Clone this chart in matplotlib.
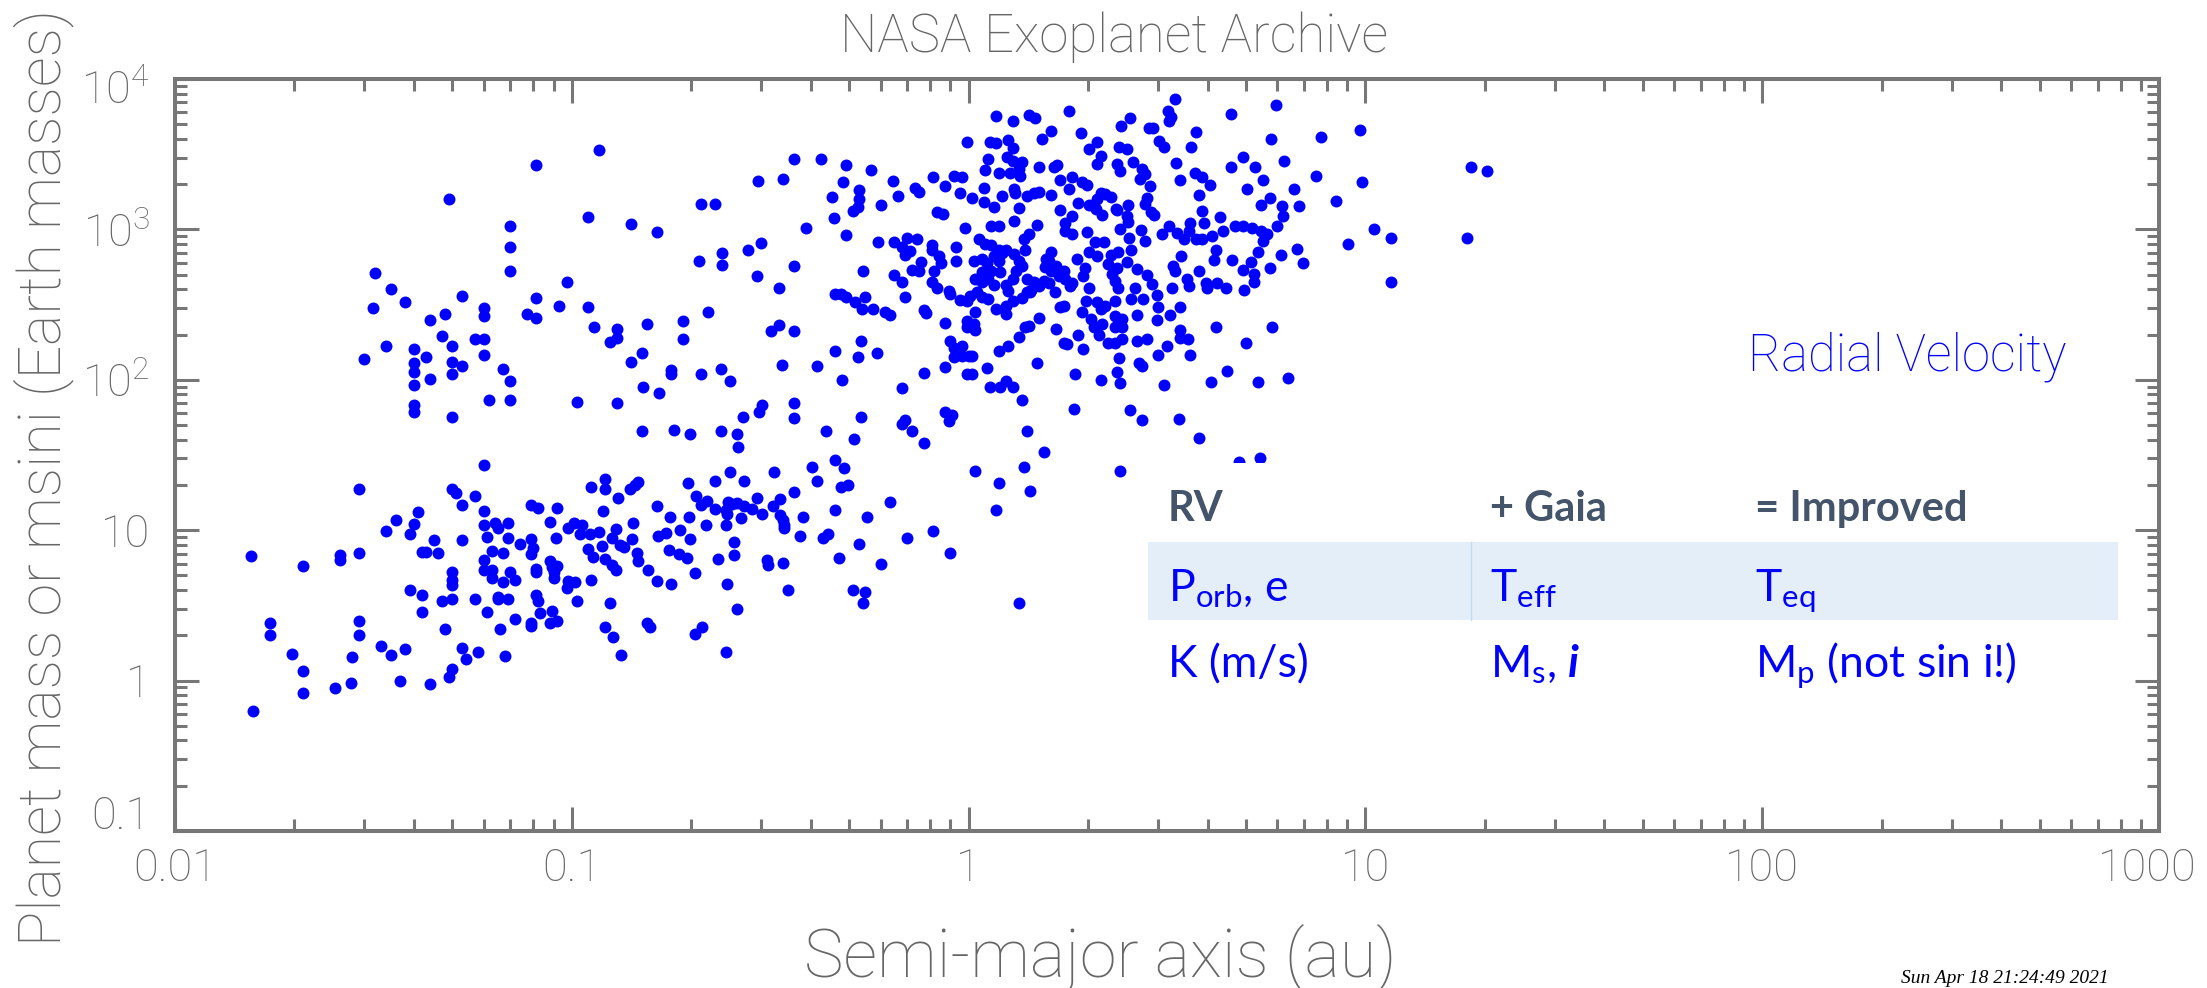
import numpy as np
import matplotlib
matplotlib.use("Agg")
import matplotlib.pyplot as plt
from matplotlib.patches import Rectangle
from matplotlib.lines import Line2D
from matplotlib.ticker import LogLocator, NullFormatter
from matplotlib.transforms import ScaledTranslation

# a < 0.1 au, m > 30
hot_giant_a = [0.081, 0.049, 0.070, 0.070, 0.070, 0.097, 0.032, 0.035, 0.0315, 0.038,
               0.053, 0.081, 0.093, 0.060, 0.060, 0.048, 0.044, 0.077, 0.081, 0.047,
               0.057, 0.060, 0.050, 0.034, 0.030, 0.040, 0.043, 0.040, 0.050, 0.053,
               0.060, 0.040, 0.050, 0.044, 0.067, 0.070, 0.040, 0.040, 0.040, 0.062,
               0.070, 0.050]
hot_giant_m = [2700, 1600, 1060, 760, 530, 450, 510, 400, 300, 330,
               360, 350, 310, 300, 265, 275, 250, 272, 258, 197,
               188, 187, 167, 168, 138, 161, 142, 130, 131, 124,
               146, 112, 110, 102, 118, 98, 92, 68, 61, 73,
               73, 57]

# a < 0.1 au, m < 30
hot_small_a = [0.060, 0.029, 0.050, 0.051, 0.057, 0.053, 0.060, 0.079, 0.082, 0.092,
               0.041, 0.036, 0.040, 0.034, 0.039, 0.060, 0.064, 0.065, 0.069, 0.088,
               0.098, 0.045, 0.053, 0.061, 0.069, 0.091, 0.079, 0.074, 0.080, 0.079,
               0.042, 0.043, 0.046, 0.063, 0.067, 0.0155, 0.021, 0.026, 0.026, 0.029,
               0.060, 0.060, 0.063, 0.063, 0.067, 0.070, 0.072, 0.081, 0.081, 0.088,
               0.089, 0.092, 0.090, 0.090, 0.098, 0.097, 0.050, 0.050, 0.050, 0.039,
               0.042, 0.047, 0.050, 0.057, 0.065, 0.065, 0.069, 0.042, 0.061, 0.081,
               0.082, 0.083, 0.089, 0.088, 0.092, 0.072, 0.079, 0.079, 0.066, 0.048,
               0.0174, 0.0174, 0.029, 0.029, 0.0197, 0.021, 0.021, 0.0157, 0.0253, 0.0277,
               0.028, 0.033, 0.035, 0.038, 0.037, 0.044, 0.049, 0.050, 0.053, 0.054,
               0.058, 0.068]
hot_small_m = [27, 18.8, 18.8, 17.6, 16.9, 14.7, 13.5, 14.7, 14.1, 14.0,
               13.3, 11.7, 11.0, 9.9, 9.4, 10.8, 11.1, 10.3, 11.2, 11.3,
               10.3, 8.6, 8.6, 9.0, 8.9, 8.9, 8.7, 8.1, 7.6, 6.9,
               7.2, 7.2, 7.1, 7.3, 7.1, 6.7, 5.8, 6.8, 6.3, 7.1,
               6.3, 5.4, 5.4, 4.8, 4.5, 5.3, 4.7, 5.5, 5.3, 6.2,
               5.7, 5.8, 5.3, 4.8, 4.6, 4.1, 5.3, 4.7, 4.3, 4.0,
               3.7, 3.4, 3.5, 3.5, 3.6, 3.5, 3.5, 2.84, 2.87, 3.7,
               3.4, 2.8, 2.9, 2.4, 2.5, 2.57, 2.4, 2.3, 2.19, 2.2,
               2.43, 2.0, 2.5, 2.0, 1.5, 1.15, 0.83, 0.63, 0.89, 0.96,
               1.44, 1.71, 1.47, 1.62, 1.0, 0.95, 1.06, 1.19, 1.64, 1.39,
               1.56, 1.46]

# 0.1 - 1 au, m > 30
warm_giant_a = [0.117, 0.110, 0.141, 0.164, 0.211, 0.229, 0.295, 0.34, 0.362, 0.424,
                0.491, 0.567, 0.99, 0.483, 0.452, 0.53, 0.53, 0.525, 0.51, 0.458,
                0.491, 0.39, 0.603, 0.643, 0.663, 0.734, 0.75, 0.815, 0.873, 0.92,
                0.96, 0.95, 0.83, 0.86, 0.98, 0.592, 0.65, 0.70, 0.74, 0.68,
                0.71, 0.69, 0.81, 0.81, 0.84, 0.85, 0.82, 0.81, 0.83, 0.93,
                0.93, 0.76, 0.72, 0.75, 0.65, 0.68, 0.69, 0.542, 0.89, 0.90,
                0.95, 0.99, 0.461, 0.478, 0.492, 0.518, 0.548, 0.54, 0.575, 0.614,
                0.635, 0.77, 0.78, 0.87, 0.99, 0.99, 0.90, 0.92, 0.96, 0.92,
                0.96, 1.0, 0.87, 0.77, 0.99, 0.535, 0.588, 0.526, 0.461, 0.48,
                0.415, 0.339, 0.363, 0.332, 0.317, 0.362, 0.293, 0.332, 0.278, 0.299,
                0.239, 0.239, 0.209, 0.110, 0.114, 0.130, 0.130, 0.125, 0.155, 0.191,
                0.191, 0.22, 0.150, 0.141, 0.178, 0.178, 0.211, 0.238, 0.251, 0.151,
                0.166, 0.103, 0.130, 0.301, 0.296, 0.270, 0.362, 0.364, 0.150, 0.181,
                0.199, 0.238, 0.261, 0.263, 0.436, 0.515, 0.535, 0.68, 0.69, 0.68,
                0.72, 0.773, 0.87, 0.91, 0.89]
warm_giant_m = [3370, 1210, 1080, 955, 1470, 1480, 2100, 2150, 2920, 2920,
                2700, 2500, 3790, 2060, 1650, 1830, 1590, 1420, 1330, 1200,
                916, 1030, 1460, 2090, 1670, 1900, 1780, 2230, 1940, 2270,
                2240, 1750, 1310, 1270, 1030, 824, 830, 880, 860, 760,
                721, 675, 787, 730, 668, 594, 531, 444, 411, 770,
                620, 610, 540, 530, 499, 444, 358, 530, 391, 372,
                340, 336, 372, 372, 353, 330, 353, 298, 295, 283,
                269, 292, 280, 240, 248, 225, 180, 164, 168, 141,
                144, 144, 121, 111, 110, 182, 151, 142, 155, 100,
                123, 125, 211, 232, 212, 570, 492, 407, 733, 807,
                697, 579, 619, 304, 224, 217, 191, 179, 234, 246,
                188, 282, 151, 132, 117, 110, 109, 118, 97.5, 89,
                82, 71, 70, 68, 61.5, 56.8, 70, 55.8, 45.8, 46.7,
                43.5, 46, 43.4, 35.8, 45.4, 40.3, 57, 88, 54, 50.7,
                45.8, 38, 61, 58, 53]

# 0.1 - 1 au, m < 30
warm_small_a = [0.112, 0.121, 0.121, 0.140, 0.144, 0.147, 0.131, 0.120, 0.196, 0.229,
                0.251, 0.271, 0.324, 0.403, 0.415, 0.461, 0.484, 0.478, 0.497, 0.364,
                0.292, 0.335, 0.206, 0.211, 0.219, 0.164, 0.177, 0.197, 0.229, 0.244,
                0.246, 0.261, 0.271, 0.284, 0.301, 0.247, 0.253, 0.267, 0.244, 0.218,
                0.321, 0.335, 0.340, 0.342, 0.343, 0.382, 0.376, 0.430, 0.442, 0.461,
                0.553, 0.632, 0.528, 0.70, 0.811, 0.90, 0.472, 0.602, 0.511, 0.549,
                0.541, 0.351, 0.310, 0.312, 0.340, 0.256, 0.256, 0.233, 0.246, 0.261,
                0.244, 0.204, 0.213, 0.204, 0.199, 0.187, 0.173, 0.165, 0.176, 0.186,
                0.195, 0.143, 0.142, 0.146, 0.147, 0.156, 0.164, 0.178, 0.101, 0.106,
                0.105, 0.111, 0.117, 0.126, 0.129, 0.110, 0.119, 0.113, 0.121, 0.132,
                0.135, 0.126, 0.129, 0.112, 0.102, 0.103, 0.125, 0.121, 0.127, 0.133,
                0.155, 0.157]
warm_small_m = [19.5, 21.9, 18.8, 18.8, 20, 20.8, 16.3, 13.5, 20.5, 21.2,
                24.3, 21.3, 24.3, 26.3, 21.4, 29.3, 26, 19.5, 20.1, 18.0,
                16.5, 16.2, 16.9, 14.8, 15.6, 14.6, 12.2, 12.3, 13.8, 13.6,
                12.9, 15.1, 14.4, 13.9, 12.9, 15.5, 14.9, 12.0, 10.9, 10.8,
                14.4, 12.6, 11.7, 10.8, 10.3, 12.2, 9.1, 8.9, 9.5, 13.6,
                12.2, 15.3, 8.05, 8.9, 9.9, 7.1, 6.5, 6.0, 4.0, 3.9,
                3.3, 4.0, 6.3, 5.9, 6.1, 8.4, 6.8, 6.4, 4.4, 3.0,
                1.54, 2.03, 2.28, 5.2, 8.7, 10.0, 9.6, 9.1, 7.4, 7.0,
                6.5, 11.1, 8.7, 7.1, 6.2, 5.4, 4.6, 4.4, 11.1, 10.8,
                9.5, 9.5, 9.7, 8.9, 10.2, 7.5, 7.8, 6.6, 6.4, 8.0,
                7.7, 5.9, 5.4, 4.7, 4.5, 3.4, 3.3, 2.28, 1.94, 1.47,
                2.4, 2.28]

# 1 - 10 au
cold_a = [3.32, 5.94, 3.18, 3.19, 3.24, 2.55, 2.42, 2.84, 2.92, 1.79,
          1.17, 1.29, 1.42, 1.47, 4.58, 9.66, 7.73, 5.78, 3.74, 3.64,
          3.02, 3.11, 1.61, 1.53, 1.92, 2.11, 2.01, 2.15, 2.11, 2.39,
          2.51, 2.37, 2.41, 2.60, 2.74, 2.79, 2.71, 2.87, 2.82, 2.79,
          2.88, 2.93, 3.34, 3.40, 3.71, 3.88, 4.06, 3.81, 3.88, 3.91,
          4.31, 4.92, 4.59, 5.28, 5.52, 5.03, 6.22, 6.6, 6.79, 6.17,
          6.2, 5.73, 5.44, 7.52, 9.81, 8.41, 9.03, 6.73, 6.95, 5.97,
          6.14, 5.76, 4.70, 4.9, 5.18, 5.44, 5.65, 5.52, 5.36, 4.37,
          4.10, 4.19, 4.15, 4.6, 5.16, 4.9, 5.25, 5.25, 4.95, 4.44,
          4.23, 3.99, 3.80, 3.97, 3.55, 3.59, 3.26, 3.27, 3.32, 3.43,
          3.07, 3.19, 3.35, 3.48, 3.62, 3.59, 3.73, 3.88, 2.72, 2.79,
          2.52, 2.51, 2.52, 2.40, 2.36, 2.53, 2.57, 2.66, 2.82, 2.90,
          2.99, 3.0, 2.99, 3.21, 3.40, 2.63, 2.75, 2.56, 2.66, 2.34,
          2.34, 2.44, 2.44, 2.34, 3.40, 3.57, 3.40, 3.61, 3.17, 3.0,
          2.82, 2.66, 2.44, 2.34, 2.24, 2.39, 2.37, 2.40, 2.69, 2.74,
          3.11, 2.16, 2.55, 2.73, 3.38, 3.80, 4.08, 4.49, 5.01, 5.35,
          6.37, 4.21, 5.8, 5.41, 1.13, 1.17, 1.26, 1.29, 1.12, 1.10,
          1.19, 1.25, 1.29, 1.36, 1.34, 1.35, 1.27, 1.50, 1.64, 1.67,
          1.70, 1.82, 1.09, 1.02, 1.09, 1.16, 1.21, 1.30, 1.31, 1.40,
          1.46, 1.50, 1.61, 1.34, 1.30, 1.14, 1.19, 1.49, 1.70, 1.75,
          1.75, 1.82, 1.82, 1.79, 1.93, 1.99, 1.89, 2.01, 2.15, 2.21,
          2.29, 2.10, 2.09, 2.17, 2.35, 1.99, 2.08, 2.19, 2.01, 2.11,
          2.38, 2.28, 2.24, 2.36, 2.51, 2.30, 2.34, 2.38, 1.87, 2.01,
          1.94, 1.96, 1.80, 1.82, 1.74, 1.69, 1.75, 1.61, 1.59, 1.66,
          1.61, 1.65, 1.50, 1.40, 1.43, 1.46, 1.97, 1.93, 2.11, 2.21,
          2.15, 2.03, 2.07, 2.13, 2.17, 2.11, 1.74, 1.70, 1.66, 1.74,
          1.77, 1.89, 1.94, 1.85, 1.50, 1.42, 1.39, 1.34, 1.26, 1.19,
          1.49, 1.02, 1.02, 1.11, 1.13, 1.20, 1.24, 1.29, 1.36, 1.40,
          1.55, 1.84, 1.04, 1.03, 1.04, 1.17, 1.24, 1.24, 1.29, 1.36,
          1.40, 1.44, 1.01, 1.08, 1.05, 1.12, 1.04, 1.08, 1.12, 1.16,
          1.03, 1.08, 1.11, 1.16, 1.19, 1.21, 1.24, 1.30, 1.34, 1.36,
          1.32, 1.29, 1.24, 1.26, 1.06, 1.10, 1.14, 1.19, 1.38, 1.42,
          1.39, 1.08, 1.14, 1.20, 1.57, 1.56, 1.59, 1.55, 1.035, 1.19,
          1.17, 1.38, 1.43, 2.40, 1.34, 4.8]
cold_m = [7360, 6710, 6090, 5280, 5560, 5470, 4870, 4700, 4690, 6130,
          5640, 5280, 5800, 5500, 5900, 4600, 4090, 3990, 4470, 3510,
          3850, 3510, 4530, 3990, 4370, 3820, 3420, 3060, 2720, 3510,
          3430, 2720, 2460, 2790, 2520, 2330, 2160, 1930, 1630, 1480,
          1300, 1250, 2770, 2130, 2390, 2220, 1970, 1700, 1330, 1110,
          1210, 3010, 2610, 2590, 2140, 1870, 2830, 1850, 1440, 1430,
          1220, 1630, 1460, 2280, 2080, 1550, 800, 740, 594, 1060,
          678, 553, 1060, 1060, 1030, 980, 930, 832, 706, 980,
          908, 733, 625, 630, 604, 540, 505, 449, 394, 411,
          440, 411, 526, 440, 468, 418, 405, 573, 531, 661,
          930, 1060, 946, 863, 1100, 980, 863, 863, 995, 832,
          1450, 1230, 1120, 1000, 1350, 871, 733, 545, 497, 433,
          366, 303, 251, 269, 303, 405, 344, 344, 269, 336,
          267, 254, 223, 223, 215, 187, 191, 146, 168, 146,
          188, 181, 188, 177, 177, 139, 112, 95, 130, 123,
          93, 99.6, 62.8, 54.2, 54.5, 40.9, 97, 114, 177, 97,
          103, 223, 223, 30, 3790, 3740, 3930, 3480, 2940, 2500,
          2370, 3010, 2870, 2790, 2530, 2280, 2390, 2620, 2620, 2680,
          2140, 2220, 1900, 1610, 1530, 1420, 1660, 1870, 1760, 1670,
          1760, 1780, 1700, 1390, 1140, 1060, 1060, 1070, 1350, 1100,
          980, 1230, 930, 1850, 2060, 1960, 1510, 1460, 1760, 1720,
          1640, 1600, 1370, 1240, 1370, 964, 828, 830, 703, 668,
          710, 675, 588, 551, 604, 505, 456, 411, 635, 411,
          492, 551, 418, 440, 531, 487, 470, 710, 620, 573,
          531, 385, 422, 468, 381, 449, 336, 281, 328, 311,
          295, 254, 223, 198, 234, 223, 311, 303, 219, 177,
          172, 199, 161, 109, 256, 229, 223, 194, 168, 156,
          130, 145, 109, 119, 89, 89, 98, 89, 73, 45.8,
          33, 64, 281, 234, 214, 295, 311, 274, 336, 350,
          381, 396, 361, 355, 386, 347, 468, 449, 468, 425,
          620, 635, 594, 668, 620, 697, 733, 682, 620, 573,
          531, 468, 425, 390, 862, 800, 785, 733, 862, 930,
          733, 518, 531, 518, 640, 560, 440, 455, 24.9, 20.5,
          13.6, 26.4, 18.2, 24.9, 3.3, 28.6]

# beyond 10 au
far_a = [18.5, 20.3, 10.5, 11.6, 11.6, 18.0]
far_m = [2620, 2460, 1000, 880, 447, 871]

xtick_vals = [0.01, 0.1, 1, 10, 100, 1000]
xtick_labels = ["0.01", "0.1", "1", "10", "100", "1000"]
ytick_vals = [0.1, 1, 10, 100, 1000, 10000]
ytick_labels = ["0.1", "1", "10", r"$\mathregular{10^2}$", r"$\mathregular{10^3}$", r"$\mathregular{10^4}$"]

table_header = ["RV", "+ Gaia", "= Improved"]
table_row1 = [r"$\mathregular{P_{orb}}$, e", r"$\mathregular{T_{eff}}$", r"$\mathregular{T_{eq}}$"]
table_row2 = ["K (m/s)", r"$\mathregular{M_s}$, $\mathbfit{i}$", r"$\mathregular{M_p}$ (not sin i!)"]

GRAY = "#777777"
TEXT_GRAY = "#666666"
BLUE = "#0000ff"
MAIN_FONT = ["Roboto", "DejaVu Sans"]
TABLE_FONT = ["Lato", "DejaVu Sans"]

plt.rcParams["font.family"] = MAIN_FONT
plt.rcParams["font.weight"] = "light"
plt.rcParams["mathtext.fontset"] = "custom"
plt.rcParams["mathtext.bfit"] = "Lato:italic:bold"

fig = plt.figure(figsize=(22.07, 9.88), dpi=100)
ax = fig.add_axes([0.0793, 0.1589, 0.8990, 0.7611])
ax.set_xscale("log")
ax.set_yscale("log")
ax.set_xlim(0.01, 1000)
ax.set_ylim(0.1, 1e4)

for a, m in [(hot_giant_a, hot_giant_m), (hot_small_a, hot_small_m),
             (warm_giant_a, warm_giant_m), (warm_small_a, warm_small_m),
             (cold_a, cold_m), (far_a, far_m)]:
    ax.plot(a, m, "o", color=BLUE, ms=8.6, mew=0, zorder=3)

for s in ax.spines.values():
    s.set_color(GRAY)
    s.set_linewidth(2.9)

ax.set_xticks(xtick_vals)
ax.set_xticklabels(xtick_labels)
ax.set_yticks(ytick_vals)
ax.set_yticklabels(ytick_labels)
ax.xaxis.set_minor_locator(LogLocator(base=10, subs=np.arange(2, 10), numticks=20))
ax.yaxis.set_minor_locator(LogLocator(base=10, subs=np.arange(2, 10), numticks=20))
ax.xaxis.set_minor_formatter(NullFormatter())
ax.yaxis.set_minor_formatter(NullFormatter())
ax.tick_params(which="both", direction="in", top=True, right=True, color=GRAY, width=2.2,
               labelcolor=TEXT_GRAY, labelsize=32.5)
ax.tick_params(which="major", length=17)
ax.tick_params(which="minor", length=8.5)
ax.tick_params(axis="x", which="major", pad=12)
ax.tick_params(axis="y", which="major", pad=18)

# end labels pulled inwards like in the original
xl = ax.get_xticklabels()
xl[-1].set_transform(xl[-1].get_transform() + ScaledTranslation(-0.12, 0, fig.dpi_scale_trans))
yl = ax.get_yticklabels()
yl[0].set_transform(yl[0].get_transform() + ScaledTranslation(0, 0.19, fig.dpi_scale_trans))
yl[-1].set_transform(yl[-1].get_transform() + ScaledTranslation(0, -0.08, fig.dpi_scale_trans))

fig.text(0.5048, 0.9474, "NASA Exoplanet Archive", fontsize=38, color=TEXT_GRAY, ha="center", va="baseline")
fig.text(0.4984, 0.0111, "Semi-major axis (au)", fontsize=48, color=TEXT_GRAY, ha="center", va="baseline")
fig.text(0.0272, 0.517, "Planet mass or msini (Earth masses)", fontsize=42.5, color=TEXT_GRAY,
         rotation=90, rotation_mode="anchor", ha="center", va="baseline")
fig.text(0.792, 0.6245, "Radial Velocity", fontsize=36.5, color=BLUE, ha="left", va="baseline")
fig.text(0.9556, 0.0051, "Sun Apr 18 21:24:49 2021", fontsize=14, color="black",
         family=["Liberation Serif", "DejaVu Serif"], style="italic", weight="normal",
         ha="right", va="baseline")

# pasted slide table over the plot
fig.add_artist(Rectangle((0.5106, 0.2864), 0.4545, 0.245, transform=fig.transFigure,
                         facecolor="white", edgecolor="none", zorder=5))
fig.add_artist(Rectangle((0.5202, 0.3725), 0.4395, 0.0789, transform=fig.transFigure,
                         facecolor="#e3eef8", edgecolor="none", zorder=6))
fig.add_artist(Line2D([0.6665, 0.6665], [0.3725, 0.4514], transform=fig.transFigure,
                      color="#c8dbee", lw=1, zorder=6))

col_x = [0.5292, 0.6751, 0.7952]
for x, h, r1, r2 in zip(col_x, table_header, table_row1, table_row2):
    fig.text(x, 0.4727, h, fontsize=30, fontweight="bold", color="#44546a",
             family=TABLE_FONT, va="baseline", zorder=7)
    fig.text(x, 0.3917, r1, fontsize=32, color=BLUE, family=TABLE_FONT, weight="normal",
             va="baseline", zorder=7)
    fig.text(x, 0.3148, r2, fontsize=32, color=BLUE, family=TABLE_FONT, weight="normal",
             va="baseline", zorder=7)

fig.savefig("out.png", dpi=100)
